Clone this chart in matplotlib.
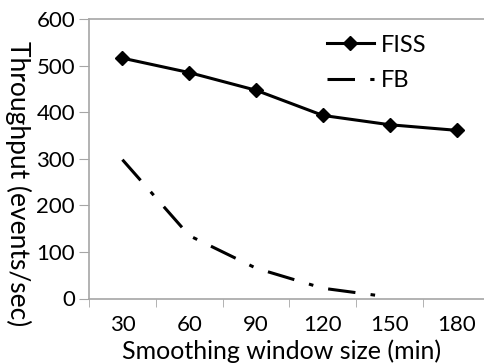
import matplotlib
matplotlib.use("Agg")
import matplotlib.pyplot as plt

plt.rcParams['font.family'] = ['Lato', 'DejaVu Sans']

windows = ["30", "60", "90", "120", "150", "180"]
fiss = [516, 485, 447, 393, 373, 361]
fb = [298, 135, 65, 22, 3]

grey = "#a6a6a6"

fig = plt.figure(figsize=(4.85, 3.63), dpi=100)
ax = fig.add_axes([89/485, 64.5/363, 401/485, 279.5/363])

x = list(range(len(windows)))
ax.plot(x, fiss, "k-", marker="D", markersize=7, linewidth=2.2, label="FISS")
ax.plot(x[:len(fb)], fb, color="k", linewidth=2.2, dashes=(9, 5, 1.5, 5), label="FB")

ax.set_xlim(-0.5, 5.5)
ax.set_ylim(0, 600)
ax.set_yticks(range(0, 601, 100))
ax.set_xticks(x)
ax.set_xticklabels(windows)
ax.set_xticks([i + 0.5 for i in range(-1, 6)], minor=True)
ax.tick_params(axis="x", which="major", length=0, pad=12, labelsize=16)
ax.tick_params(axis="x", which="minor", length=6, color=grey, direction="out")
ax.tick_params(axis="y", length=7, color=grey, labelsize=16, pad=3)

for side in ["left", "bottom", "top"]:
    ax.spines[side].set_color(grey)
    ax.spines[side].set_linewidth(1.2)
ax.spines["right"].set_visible(False)

ax.set_xlabel("Smoothing window size (min)", fontsize=18)
ax.xaxis.set_label_coords(0.48, -0.145)
ax.set_ylabel("Throughput (events/sec)", fontsize=19, rotation=270)
ax.yaxis.set_label_coords(-0.21, 0.41)

ax.legend(loc="upper left", bbox_to_anchor=(0.54, 1.02), frameon=False,
          fontsize=17, handlelength=2.0, handletextpad=0.3, labelspacing=0.6)

fig.savefig("out.png", dpi=100)
